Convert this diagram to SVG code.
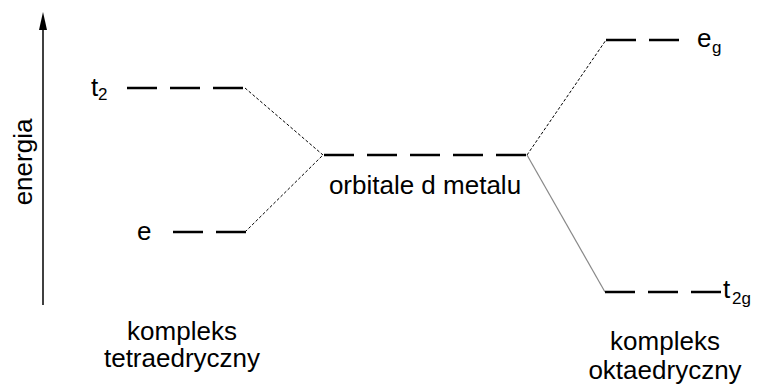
<svg xmlns="http://www.w3.org/2000/svg" width="760" height="385" viewBox="0 0 760 385">
<style>
text{font-family:"Liberation Sans",Arial,sans-serif;fill:#000}
.lbl{font-size:26px}
.sub{font-size:17px}
.lvl{stroke:#000;stroke-width:2.5;stroke-dasharray:30 13;fill:none}
.dot{stroke:#000;stroke-width:1;stroke-dasharray:3 2;fill:none}
.sol{stroke:#888;stroke-width:1.2;fill:none}
</style>
<rect width="760" height="385" fill="#fff"/>
<g id="axis">
<line x1="43" y1="305" x2="43" y2="28" stroke="#000" stroke-width="1.5"/>
<polygon points="43,12 39,30 47,30" fill="#000"/>
<text class="lbl" transform="translate(32,162) rotate(-90)" text-anchor="middle">energia</text>
</g>
<g id="connectors">
<line class="dot" x1="245" y1="88" x2="323" y2="155"/>
<line class="dot" x1="245" y1="232" x2="323" y2="155"/>
<line class="dot" x1="527" y1="155" x2="606" y2="40"/>
<line class="sol" x1="527" y1="155" x2="605" y2="292"/>
</g>
<g id="t2">
<line class="lvl" x1="127" y1="88" x2="243" y2="88"/>
<text class="lbl" x="91" y="96">t</text><text class="sub" x="98" y="100">2</text>
</g>
<g id="e">
<line class="lvl" x1="173" y1="232" x2="246" y2="232"/>
<text class="lbl" x="137" y="240">e</text>
</g>
<g id="d">
<line class="lvl" x1="324" y1="155" x2="526" y2="155"/>
<text class="lbl" x="425" y="194" text-anchor="middle">orbitale d metalu</text>
</g>
<g id="eg">
<line class="lvl" x1="606" y1="40" x2="679" y2="40"/>
<text class="lbl" x="697" y="47">e</text><text class="sub" x="712" y="53">g</text>
</g>
<g id="t2g">
<line class="lvl" x1="605" y1="292" x2="721" y2="292"/>
<text class="lbl" x="723" y="298">t</text><text class="sub" x="732" y="304">2g</text>
</g>
<g id="tetra">
<text class="lbl" x="182" y="340" text-anchor="middle">kompleks</text>
<text class="lbl" x="182" y="367" text-anchor="middle">tetraedryczny</text>
</g>
<g id="okta">
<text class="lbl" x="665" y="350" text-anchor="middle">kompleks</text>
<text class="lbl" x="665" y="379" text-anchor="middle">oktaedryczny</text>
</g>
</svg>
